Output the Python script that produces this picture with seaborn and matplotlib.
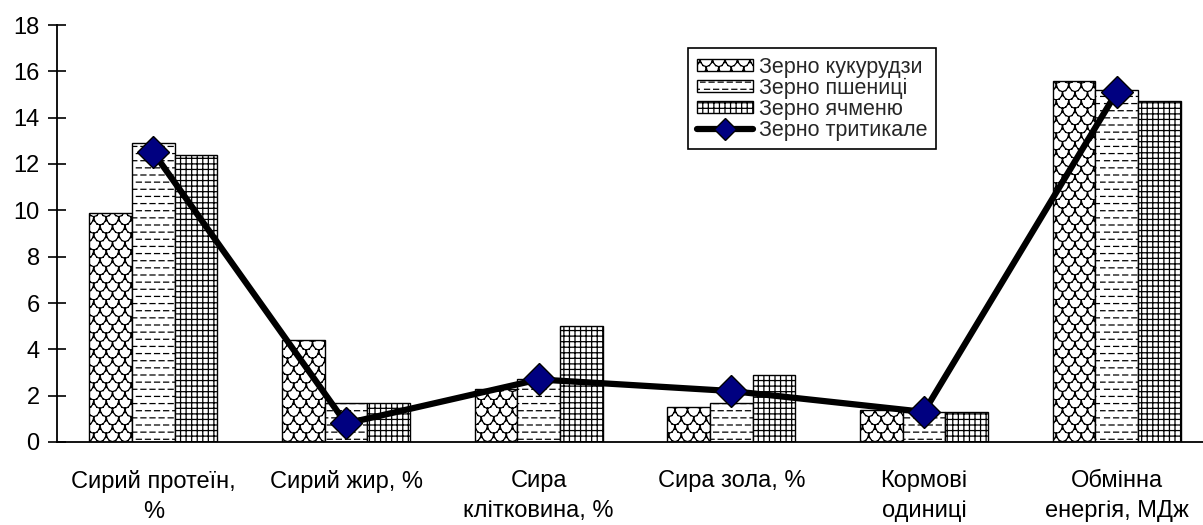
import numpy as np
import pandas as pd
import matplotlib
matplotlib.use("Agg")
import matplotlib.pyplot as plt
import matplotlib.hatch as mhatch
from matplotlib.path import Path
from matplotlib.patches import Patch
from matplotlib.lines import Line2D
import seaborn as sns

# ---------------- data ----------------
categories = ["Сирий протеїн,\n%", "Сирий жир, %", "Сира\nклітковина, %",
              "Сира зола, %", "Кормові\nодиниці", "Обмінна\nенергія, МДж"]
series_names = ["Зерно кукурудзи", "Зерно пшениці", "Зерно ячменю"]
line_name = "Зерно тритикале"
corn = [9.9, 4.4, 2.3, 1.5, 1.4, 15.6]
wheat = [12.9, 1.7, 2.7, 1.7, 1.3, 15.2]
barley = [12.4, 1.7, 5.0, 2.9, 1.3, 14.7]
triticale = [12.5, 0.8, 2.7, 2.2, 1.3, 15.1]
yticks = list(range(0, 19, 2))


# ---------------- custom hatch patterns ----------------
class ScaleHatch(mhatch.HatchPatternBase):
    """fish-scale pattern (open arcs drawn as segments), triggered by 'o'"""
    npts = 7

    def __init__(self, hatch, density):
        n = hatch.count('o')
        self.rows = 12 * n
        self.cols = 8 * n
        n_even = (self.rows + 1) // 2
        n_odd = self.rows // 2
        self.num_shapes = n_even * self.cols + n_odd * (self.cols + 1)
        self.num_vertices = self.num_shapes * (self.npts - 1) * 2

    def set_vertices_and_codes(self, vertices, codes):
        t = np.linspace(np.pi, 2 * np.pi, self.npts)
        w = 1.0 / self.cols
        h = 1.0 / self.rows
        k = 0
        for r in range(self.rows):
            if r % 2:
                centers = [c * w for c in range(self.cols + 1)]
            else:
                centers = [(c + 0.5) * w for c in range(self.cols)]
            cy = r * h
            for cx in centers:
                xs = cx + 0.5 * w * np.cos(t)
                ys = cy + h * (1 + np.sin(t))
                for i in range(self.npts - 1):
                    vertices[k] = (xs[i], ys[i])
                    vertices[k + 1] = (xs[i + 1], ys[i + 1])
                    codes[k] = Path.MOVETO
                    codes[k + 1] = Path.LINETO
                    k += 2


class DashHatch(mhatch.HatchPatternBase):
    """short dashed horizontal lines, triggered by 'O'"""

    def __init__(self, hatch, density):
        n = hatch.count('O')
        self.rows = 14 * n
        self.cols = 11 * n
        self.num_vertices = self.rows * self.cols * 2

    def set_vertices_and_codes(self, vertices, codes):
        w = 1.0 / self.cols
        h = 1.0 / self.rows
        k = 0
        for r in range(self.rows):
            y = (r + 0.5) * h
            off = 0.5 * w if r % 2 else 0.0
            for c in range(self.cols):
                x0 = c * w + off
                vertices[k] = (x0, y)
                vertices[k + 1] = (x0 + 0.55 * w, y)
                codes[k] = Path.MOVETO
                codes[k + 1] = Path.LINETO
                k += 2


mhatch._hatch_types = [t for t in mhatch._hatch_types
                       if t not in (mhatch.SmallCircles, mhatch.LargeCircles)] + [ScaleHatch, DashHatch]

hatches = ['o', 'O', '+++']

# ---------------- style ----------------
sns.set_style("white")
plt.rcParams['font.family'] = ['Liberation Sans', 'DejaVu Sans']
plt.rcParams['hatch.color'] = 'black'
plt.rcParams['hatch.linewidth'] = 0.9

fig = plt.figure(figsize=(12.03, 5.25), dpi=100)
ax = fig.add_axes([57 / 1203, 83 / 525, 1156 / 1203, 417 / 525])

df = pd.DataFrame({
    "cat": categories * 3,
    "series": sum([[s] * len(categories) for s in series_names], []),
    "value": corn + wheat + barley,
})

sns.barplot(data=df, x="cat", y="value", hue="series", order=categories,
            hue_order=series_names, palette={s: "white" for s in series_names},
            width=0.665, gap=0, dodge=True, saturation=1, errorbar=None,
            edgecolor="black", linewidth=1.0, legend=False, ax=ax, zorder=2)

for cont, hp in zip(ax.containers, hatches):
    for bar in cont:
        bar.set_hatch(hp)
        bar.set_edgecolor("black")

sns.lineplot(x=np.arange(len(categories)), y=triticale, color="black",
             linewidth=4.5, marker="D", markersize=16, markerfacecolor="#000080",
             markeredgecolor="black", markeredgewidth=1.0, ax=ax, legend=False,
             zorder=5)

ax.set_xlim(-0.5, len(categories) - 0.5)
ax.set_ylim(0, 18)
ax.set_yticks(yticks)
ax.set_yticklabels([str(v) for v in yticks])
ax.set_xticks(np.arange(len(categories)))
ax.set_xticklabels(categories, linespacing=1.5)
ax.set_xticks(np.arange(-0.5, len(categories), 1.0), minor=True)
ax.set_xlabel("")
ax.set_ylabel("")

ax.tick_params(axis="x", which="major", length=0, pad=20, labelsize=17,
               colors="black")
ax.tick_params(axis="x", which="minor", direction="inout", length=12, width=1.2,
               color="black")
ax.tick_params(axis="y", direction="inout", length=13, width=1.2, pad=6,
               labelsize=17, colors="black", left=True)

for s in ["top", "right"]:
    ax.spines[s].set_visible(False)
for s in ["left", "bottom"]:
    ax.spines[s].set_color("black")
    ax.spines[s].set_linewidth(1.3)

handles = [Patch(facecolor="white", edgecolor="black", hatch=hp, linewidth=1.0)
           for hp in hatches]
handles.append(Line2D([0], [0], color="black", linewidth=4.5, marker="D",
                      markersize=11, markerfacecolor="#000080",
                      markeredgecolor="black"))
leg = fig.legend(handles, series_names + [line_name], loc="upper center",
                 bbox_to_anchor=(812 / 1203, 1 - 48 / 525), fontsize=15.5,
                 frameon=True, fancybox=False, edgecolor="black",
                 handlelength=2.6, handleheight=0.45, handletextpad=0.3,
                 labelspacing=0.0, borderpad=0.4, borderaxespad=0,
                 framealpha=1)
leg.get_frame().set_linewidth(1.2)

fig.savefig("out.png", dpi=100)
